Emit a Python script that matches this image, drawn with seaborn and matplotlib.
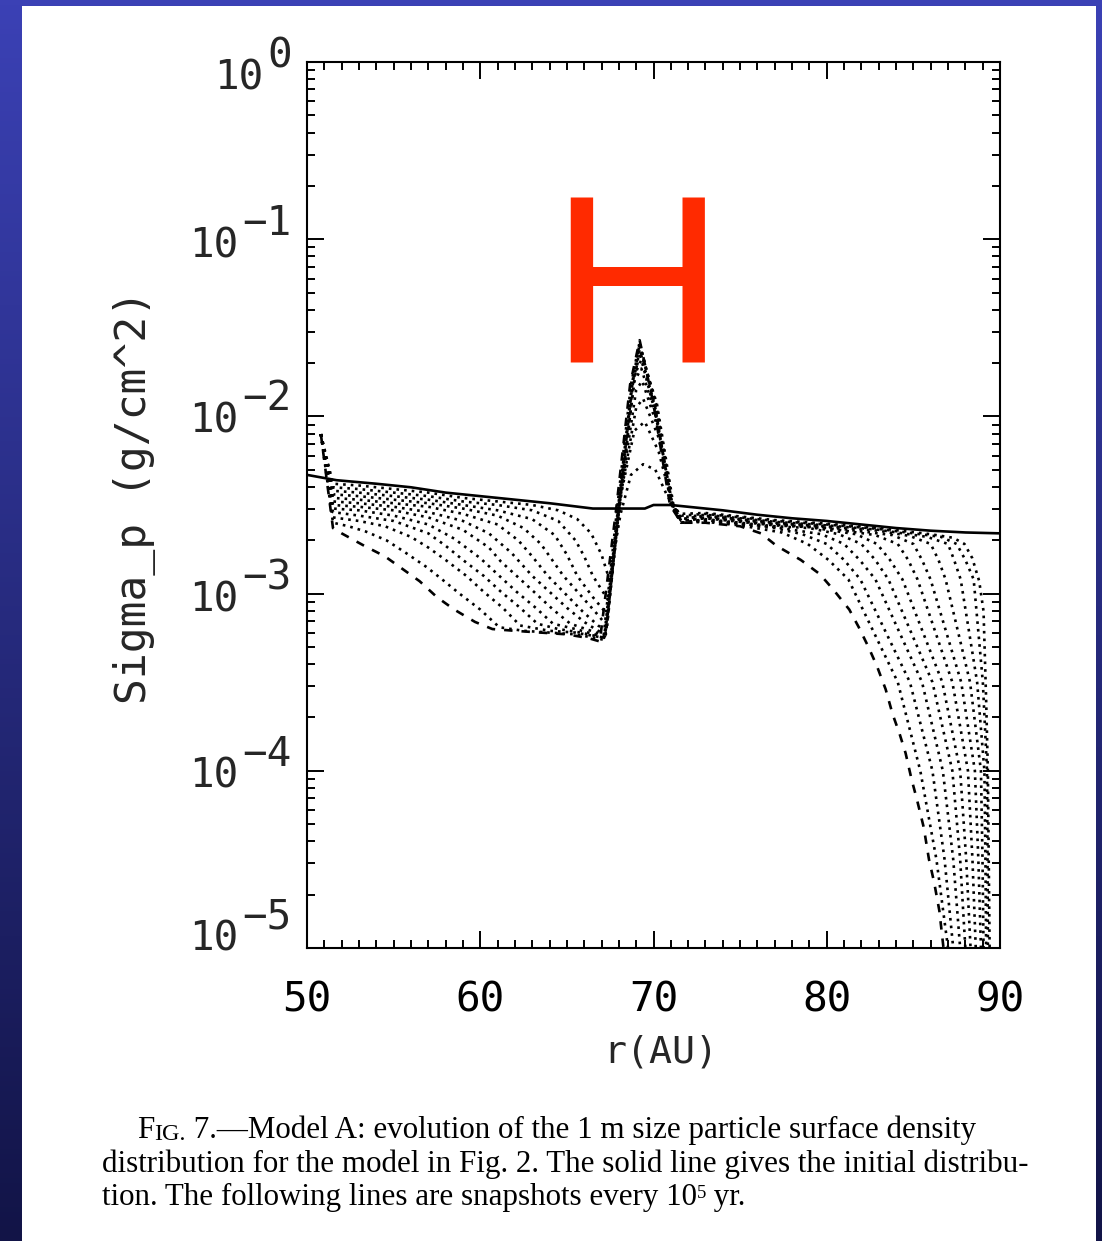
import numpy as np
import pandas as pd
import matplotlib
matplotlib.use('Agg')
import matplotlib.pyplot as plt
import seaborn as sns
from matplotlib.ticker import MultipleLocator, LogLocator, NullFormatter
from matplotlib.patches import Rectangle
from matplotlib.colors import LinearSegmentedColormap

# initial distribution (solid line), log10 of Sigma_p
r_init = [50, 51.7, 54, 56, 58, 60, 62, 64, 66.5, 68, 69.5, 70, 70.5, 71, 72, 74, 76, 78, 80, 82, 84, 86, 88, 90]
lg_init = [-2.33, -2.36, -2.38, -2.40, -2.43, -2.45, -2.47, -2.49, -2.52, -2.52, -2.52, -2.50, -2.50, -2.50,
           -2.51, -2.53, -2.555, -2.575, -2.59, -2.61, -2.63, -2.645, -2.655, -2.66]

# snapshots every 1e5 yr (1 = first, 12 = last, dashed)
r_s1 = [50.8, 51.5, 53, 55, 57, 59, 61, 63, 64.5, 65.6, 66.4, 67.0, 67.45, 68.1, 68.7, 69.4, 70.1, 70.8, 71.5,
        73, 75, 77, 80, 83, 86, 87.3, 87.95, 88.4, 88.8, 89.05, 89.2, 89.3, 89.35, 89.4, 89.42]
lg_s1 = [-2.10, -2.38, -2.39, -2.41, -2.43, -2.46, -2.48, -2.50, -2.53, -2.58, -2.66, -2.78, -2.92, -2.55, -2.33,
         -2.27, -2.30, -2.45, -2.55, -2.545, -2.565, -2.585, -2.605, -2.63, -2.665, -2.685, -2.72, -2.80, -2.93,
         -3.1, -3.6, -4.0, -4.5, -5.0, -5.3]

r_s2 = [50.8, 51.5, 53, 55, 57, 59, 61, 63, 64.5, 65.5, 66.0, 66.5, 67.4, 68.1, 68.9, 69.5, 70.3, 71.1, 71.6,
        73, 75, 77, 80, 83, 86.6, 87.5, 88.0, 88.48, 89.01, 89.25, 89.28, 89.3, 89.32]
lg_s2 = [-2.10, -2.40, -2.41, -2.43, -2.45, -2.48, -2.50, -2.53, -2.59, -2.70, -2.79, -2.90, -3.04, -2.45, -2.08,
         -2.03, -2.20, -2.50, -2.56, -2.55, -2.57, -2.59, -2.61, -2.635, -2.68, -2.72, -2.81, -2.92, -3.5, -4.0,
         -4.5, -5.0, -5.3]

r_s3 = [50.8, 51.5, 53, 55, 57, 59, 61, 63, 64.3, 65.0, 65.6, 66.5, 67.35, 68.1, 69.0, 69.4, 70.3, 71.1, 71.6,
        73, 75, 77, 80, 83, 85.8, 87.0, 87.35, 87.73, 88.68, 89.1, 89.16, 89.2, 89.23]
lg_s3 = [-2.10, -2.42, -2.43, -2.45, -2.47, -2.50, -2.53, -2.58, -2.67, -2.78, -2.90, -3.02, -3.12, -2.45, -1.95,
         -1.90, -2.12, -2.50, -2.57, -2.555, -2.575, -2.595, -2.615, -2.64, -2.68, -2.72, -2.81, -2.92, -3.5, -4.0,
         -4.5, -5.0, -5.3]

r_s4 = [50.8, 51.5, 53, 55, 57, 59, 61, 62.5, 63.5, 64.8, 65.8, 66.7, 67.3, 68.05, 69.0, 69.35, 70.2, 71.1, 71.6,
        73, 75, 77, 80, 83, 84.8, 86.0, 86.45, 86.86, 88.27, 88.9, 88.99, 89.05, 89.1]
lg_s4 = [-2.10, -2.44, -2.45, -2.47, -2.49, -2.52, -2.56, -2.63, -2.72, -2.90, -3.01, -3.11, -3.18, -2.48, -1.85,
         -1.80, -2.05, -2.50, -2.58, -2.56, -2.58, -2.60, -2.62, -2.645, -2.675, -2.72, -2.81, -2.92, -3.5, -4.0,
         -4.5, -5.0, -5.3]

r_s5 = [50.8, 51.5, 53, 55, 57, 59, 61, 62.2, 63.0, 63.9, 64.9, 65.9, 66.8, 67.3, 68.0, 68.9, 69.3, 70.2, 71.1, 71.6,
        73, 75, 77, 80, 83.8, 85.0, 85.5, 85.99, 87.76, 88.55, 88.75, 88.9, 88.98]
lg_s5 = [-2.10, -2.46, -2.47, -2.49, -2.51, -2.55, -2.61, -2.70, -2.79, -2.90, -3.00, -3.10, -3.18, -3.21, -2.50,
         -1.80, -1.73, -2.02, -2.50, -2.58, -2.565, -2.585, -2.605, -2.625, -2.67, -2.72, -2.81, -2.92, -3.5, -4.0,
         -4.5, -5.0, -5.3]

r_s6 = [50.8, 51.5, 53, 55, 57, 59, 60.5, 61.8, 63.0, 64.0, 65.0, 66.0, 66.8, 67.25, 68.0, 68.85, 69.3, 70.1, 71.1,
        71.6, 73, 75, 77, 80, 82.8, 84.1, 84.7, 85.24, 87.25, 88.15, 88.41, 88.6, 88.7]
lg_s6 = [-2.10, -2.48, -2.49, -2.51, -2.54, -2.59, -2.66, -2.77, -2.90, -2.99, -3.08, -3.16, -3.21, -3.23, -2.50,
         -1.78, -1.68, -1.98, -2.50, -2.59, -2.57, -2.59, -2.61, -2.63, -2.67, -2.72, -2.81, -2.92, -3.5, -4.0,
         -4.5, -5.0, -5.3]

r_s7 = [50.8, 51.5, 53, 55, 57, 59, 60.5, 61.2, 62.1, 63.1, 64.2, 65.2, 66.4, 67.2, 68.0, 68.8, 69.25, 70.1, 71.05,
        71.6, 73, 75, 77, 79, 81.7, 82.9, 83.65, 84.37, 86.67, 87.7, 88.05, 88.3, 88.45]
lg_s7 = [-2.10, -2.50, -2.51, -2.53, -2.57, -2.64, -2.74, -2.82, -2.90, -2.99, -3.09, -3.17, -3.21, -3.24, -2.52,
         -1.80, -1.64, -1.95, -2.50, -2.59, -2.575, -2.595, -2.615, -2.625, -2.665, -2.72, -2.81, -2.92, -3.5,
         -4.0, -4.5, -5.0, -5.3]

r_s8 = [50.8, 51.5, 53, 55, 57, 58.5, 60, 61.1, 62.1, 63.2, 64.2, 65.5, 66.6, 67.2, 68.05, 68.85, 69.2, 70.2, 71.15,
        71.6, 73, 75, 77, 79, 80.7, 82.0, 82.8, 83.56, 86.1, 87.25, 87.7, 88.0, 88.2]
lg_s8 = [-2.10, -2.52, -2.53, -2.56, -2.61, -2.69, -2.80, -2.90, -2.99, -3.08, -3.17, -3.20, -3.23, -3.25, -2.52,
         -1.82, -1.62, -1.93, -2.50, -2.60, -2.58, -2.60, -2.62, -2.63, -2.665, -2.72, -2.81, -2.92, -3.5, -4.0,
         -4.5, -5.0, -5.3]

r_s9 = [50.8, 51.5, 53, 55, 57, 58, 59, 60.2, 61.2, 62.3, 63.3, 64.5, 65.8, 66.7, 67.2, 68.0, 68.8, 69.2, 70.15,
        71.1, 71.6, 73, 75, 77, 79.7, 81.0, 81.9, 82.81, 85.5, 86.7, 87.3, 87.7, 87.9]
lg_s9 = [-2.10, -2.54, -2.56, -2.59, -2.66, -2.73, -2.81, -2.90, -2.99, -3.08, -3.17, -3.20, -3.22, -3.24, -3.25,
         -2.52, -1.82, -1.60, -1.93, -2.50, -2.60, -2.585, -2.605, -2.625, -2.665, -2.72, -2.81, -2.92, -3.5, -4.0,
         -4.5, -5.0, -5.3]

r_s10 = [50.8, 51.5, 53, 54.5, 56, 57, 58, 59.2, 60.2, 61.3, 62.3, 64.0, 65.5, 66.6, 67.15, 67.95, 68.75, 69.2,
         70.1, 71.05, 71.6, 73, 75, 77, 78.6, 80.0, 81.0, 81.94, 84.8, 86.1, 86.8, 87.3, 87.55]
lg_s10 = [-2.10, -2.57, -2.59, -2.62, -2.68, -2.74, -2.81, -2.90, -2.99, -3.08, -3.18, -3.21, -3.22, -3.24, -3.25,
          -2.52, -1.82, -1.59, -1.93, -2.50, -2.60, -2.59, -2.61, -2.63, -2.665, -2.72, -2.81, -2.92, -3.5, -4.0,
          -4.5, -5.0, -5.3]

r_s11 = [50.8, 51.5, 52.4, 53.4, 54.6, 55.7, 56.9, 57.8, 58.8, 60.0, 61.1, 62.5, 64.0, 65.5, 66.6, 67.1, 67.9,
         68.7, 69.2, 70.05, 71.0, 71.6, 73, 75, 77.4, 78.9, 80.1, 81.25, 84.1, 85.4, 86.33, 87.0, 87.3]
lg_s11 = [-2.10, -2.60, -2.62, -2.65, -2.70, -2.77, -2.85, -2.92, -3.00, -3.09, -3.19, -3.21, -3.22, -3.23, -3.25,
          -3.26, -2.52, -1.82, -1.58, -1.93, -2.50, -2.60, -2.595, -2.615, -2.655, -2.72, -2.81, -2.92, -3.5, -4.0,
          -4.5, -5.0, -5.3]

r_s12 = [50.8, 51.5, 52.0, 53.3, 54.5, 55.5, 56.5, 57.5, 58.5, 59.7, 60.7, 62.0, 63.5, 65.0, 66.2, 66.9, 67.85,
         68.65, 69.2, 70.0, 70.95, 71.6, 73, 75, 76.2, 77.1, 78.5, 79.6, 80.4, 81.3, 81.85, 82.4, 82.9, 83.4, 83.8,
         84.2, 84.55, 84.9, 85.2, 85.6, 85.9, 86.2, 86.5, 86.75, 86.9]
lg_s12 = [-2.10, -2.63, -2.66, -2.73, -2.79, -2.86, -2.93, -3.02, -3.09, -3.16, -3.20, -3.21, -3.22, -3.23, -3.25,
          -3.27, -2.52, -1.82, -1.57, -1.93, -2.50, -2.60, -2.60, -2.62, -2.66, -2.73, -2.81, -2.89, -2.98, -3.09,
          -3.19, -3.30, -3.41, -3.54, -3.68, -3.79, -3.90, -4.05, -4.16, -4.32, -4.50, -4.63, -4.79, -5.01, -5.2]

y_exponents = [0, -1, -2, -3, -4, -5]

snaps = [(r_s1, lg_s1), (r_s2, lg_s2), (r_s3, lg_s3), (r_s4, lg_s4), (r_s5, lg_s5), (r_s6, lg_s6),
         (r_s7, lg_s7), (r_s8, lg_s8), (r_s9, lg_s9), (r_s10, lg_s10), (r_s11, lg_s11), (r_s12, lg_s12)]

# long table for seaborn
frames = [pd.DataFrame({'r': r_init, 'sigma': 10.0 ** np.array(lg_init), 'snap': 0, 'kind': 'initial'})]
for i, (rr, lg) in enumerate(snaps, start=1):
    kind = 'last' if i == len(snaps) else 'snap'
    frames.append(pd.DataFrame({'r': rr, 'sigma': 10.0 ** np.array(lg), 'snap': i, 'kind': kind}))
df = pd.concat(frames, ignore_index=True)

sns.set_theme(style='ticks')
plt.rcParams['font.family'] = ['DejaVu Sans Mono']

W, H = 1102, 1241
fig = plt.figure(figsize=(W / 100, H / 100), dpi=100)

# blue slide background with white panel
bg = fig.add_axes([0, 0, 1, 1], zorder=-5)
cmap = LinearSegmentedColormap.from_list('slide', ['#3b41b5', '#121447'])
bg.imshow(np.linspace(0, 1, 256)[:, None], aspect='auto', cmap=cmap, extent=[0, 1, 0, 1], origin='upper')
bg.add_patch(Rectangle((22 / W, 0), (1096 - 22) / W, (H - 6) / H, transform=bg.transAxes,
                       facecolor='white', edgecolor='none'))
bg.set_xlim(0, 1)
bg.set_ylim(0, 1)
bg.axis('off')

ax = fig.add_axes([307 / W, 1 - 948 / H, 693 / W, 886 / H], zorder=2)
sns.lineplot(data=df, x='r', y='sigma', style='kind', units='snap', estimator=None, sort=False,
             dashes={'initial': '', 'snap': (1.0, 1.9), 'last': (3.2, 3.4)},
             color='black', lw=1.9, legend=False, ax=ax)

ax.set_yscale('log')
ax.set_xlim(50, 90)
ax.set_ylim(1e-5, 1)
ax.set_xlabel('')
ax.set_ylabel('')
ax.xaxis.set_major_locator(MultipleLocator(10))
ax.xaxis.set_minor_locator(MultipleLocator(1))
ax.yaxis.set_major_locator(LogLocator(base=10, numticks=10))
ax.yaxis.set_minor_locator(LogLocator(base=10, subs=np.arange(2, 10), numticks=20))
ax.yaxis.set_minor_formatter(NullFormatter())
ax.tick_params(which='both', direction='in', top=True, right=True, color='black', width=1.4)
ax.tick_params(which='major', length=12)
ax.tick_params(which='minor', length=5.5)
ax.tick_params(axis='x', labelsize=29.5, pad=23.5, labelcolor='black')
ax.tick_params(axis='y', labelleft=False)
for sp in ax.spines.values():
    sp.set_color('black')
    sp.set_linewidth(1.5)

# y tick labels 10^n with a full-size exponent
label_dy = [13, 3, 1, 3, 2, -13]
for e, dy in zip(y_exponents, label_dy):
    ex = '0' if e == 0 else '\u2212' + str(-e)
    ax.annotate(ex, xy=(0, 10.0 ** e), xycoords=('axes fraction', 'data'),
                xytext=(-15 * 0.72, -(dy - 7) * 0.72), textcoords='offset points',
                ha='right', va='baseline', fontsize=29.5, annotation_clip=False)
    ax.annotate('10', xy=(0, 10.0 ** e), xycoords=('axes fraction', 'data'),
                xytext=(-(15 + len(ex) * 24.7 + 4) * 0.72, -(dy + 15) * 0.72), textcoords='offset points',
                ha='right', va='baseline', fontsize=29.5, annotation_clip=False)

fig.text(135 / W, 1 - 497 / H, 'Sigma_p (g/cm^2)', rotation=90, ha='center', va='center', fontsize=31)
fig.text(661 / W, 1 - 1063 / H, 'r(AU)', ha='center', va='baseline', fontsize=27.5)

fig.text(637 / W, 1 - 362 / H, 'H', ha='center', va='baseline', fontsize=173, color='#ff2a00',
         family='Liberation Sans', zorder=5)

# figure caption
cap = dict(family='Liberation Serif', color='black')
cs = 22.3
t = bg.annotate('F', xy=(137, H - 1138), xycoords='figure pixels', va='baseline', ha='left', fontsize=cs, **cap)
t = bg.annotate('IG.', xy=(1, 0), xycoords=t, va='bottom', ha='left', fontsize=cs * 0.78, **cap)
bg.annotate(' 7.\u2014Model A: evolution of the 1 m size particle surface density', xy=(1, 0), xycoords=t,
            va='bottom', ha='left', fontsize=cs, **cap)
bg.annotate('distribution for the model in Fig. 2. The solid line gives the initial distribu-',
            xy=(102, H - 1172), xycoords='figure pixels', va='baseline', ha='left', fontsize=cs, **cap)
t3 = bg.annotate('tion. The following lines are snapshots every 10', xy=(102, H - 1205),
                 xycoords='figure pixels', va='baseline', ha='left', fontsize=cs, **cap)
t5 = bg.annotate('5', xy=(1, 0.93), xycoords=t3, va='top', ha='left', fontsize=cs * 0.6, **cap)
bg.annotate(' yr.', xy=(1, 0), xycoords=(t5, t3), va='bottom', ha='left', fontsize=cs, **cap)

fig.savefig('out.png', dpi=100)
